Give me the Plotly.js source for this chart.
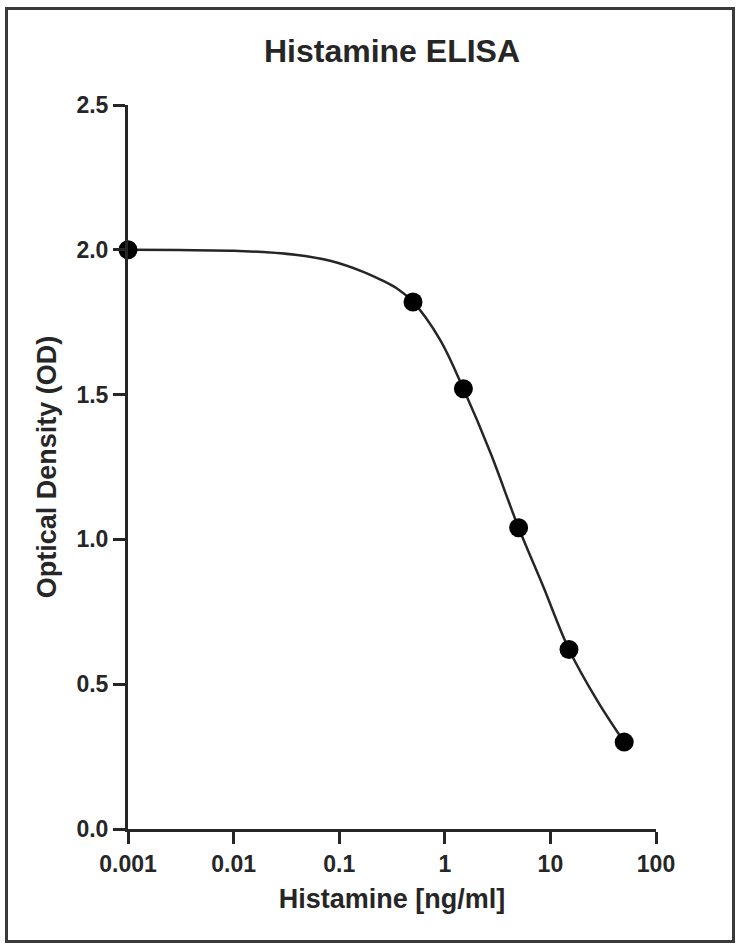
<!DOCTYPE html>
<html>
<head>
<meta charset="utf-8">
<script src="https://cdn.plot.ly/plotly-3.0.1.min.js"></script>
<style>
  body { margin: 0; background: #fff; }
  #chart { position: absolute; left: 0; top: 0; width: 743px; height: 949px; }
  #frame {
    position: absolute; left: 5px; top: 7px; width: 724px; height: 930px;
    border: 3px solid #3a3a3a; pointer-events: none;
  }
</style>
</head>
<body>
<div id="chart"></div>
<div id="frame"></div>
<script>
// measured standards
const concentration = [0.001, 0.5, 1.5, 5, 15, 50];
const opticalDensity = [2.0, 1.82, 1.52, 1.04, 0.62, 0.30];

// fitted curve
const fitX = [0.001, 0.003, 0.01, 0.019, 0.04, 0.082, 0.169, 0.243, 0.35, 0.5, 0.9, 1.5, 2.7, 5, 8.5, 15, 27.6, 50];
const fitY = [2.0, 1.999, 1.997, 1.992, 1.982, 1.962, 1.924, 1.898, 1.867, 1.82, 1.69, 1.52, 1.30, 1.04, 0.84, 0.62, 0.445, 0.30];

const xTickVals = [0.001, 0.01, 0.1, 1, 10, 100];
const xTickText = ["0.001", "0.01", "0.1", "1", "10", "100"];

const ink = "#262626";
const font = "Liberation Sans, Arial, sans-serif";

Plotly.newPlot(
  "chart",
  [
    {
      name: "fit",
      x: fitX,
      y: fitY,
      type: "scatter",
      mode: "lines",
      line: { shape: "spline", width: 2.5, color: ink },
      cliponaxis: false,
      hoverinfo: "skip",
    },
    {
      name: "standards",
      x: concentration,
      y: opticalDensity,
      type: "scatter",
      mode: "markers",
      marker: { size: 19, color: "#000" },
      cliponaxis: false,
    },
  ],
  {
    width: 743,
    height: 949,
    showlegend: false,
    margin: { l: 128, r: 87, t: 105, b: 120 },
    paper_bgcolor: "#fff",
    plot_bgcolor: "#fff",
    font: { family: font, color: ink },
    title: {
      text: "<b>Histamine ELISA</b>",
      font: { size: 32, family: font, color: ink },
      x: 0.5,
      xref: "paper",
      xanchor: "center",
      y: 0.946,
      yref: "container",
      yanchor: "middle",
    },
    xaxis: {
      type: "log",
      range: [-3, 2],
      tickvals: xTickVals,
      ticktext: xTickText,
      ticks: "outside",
      ticklen: 12,
      tickwidth: 3,
      tickcolor: ink,
      showline: true,
      linewidth: 3,
      linecolor: ink,
      showgrid: false,
      zeroline: false,
      tickfont: { size: 23, family: font, color: ink, weight: "bold" },
      title: {
        text: "<b>Histamine [ng/ml]</b>",
        font: { size: 27, family: font, color: ink },
        standoff: 14,
      },
    },
    yaxis: {
      range: [0, 2.5],
      dtick: 0.5,
      tickformat: ".1f",
      ticks: "outside",
      ticklen: 12,
      tickwidth: 3,
      tickcolor: ink,
      showline: true,
      linewidth: 3,
      linecolor: ink,
      showgrid: false,
      zeroline: false,
      tickfont: { size: 23, family: font, color: ink, weight: "bold" },
      title: {
        text: "<b>Optical Density (OD)</b>",
        font: { size: 27, family: font, color: ink },
        standoff: 12,
      },
    },
  },
  { displayModeBar: false, staticPlot: true }
);
</script>
</body>
</html>
